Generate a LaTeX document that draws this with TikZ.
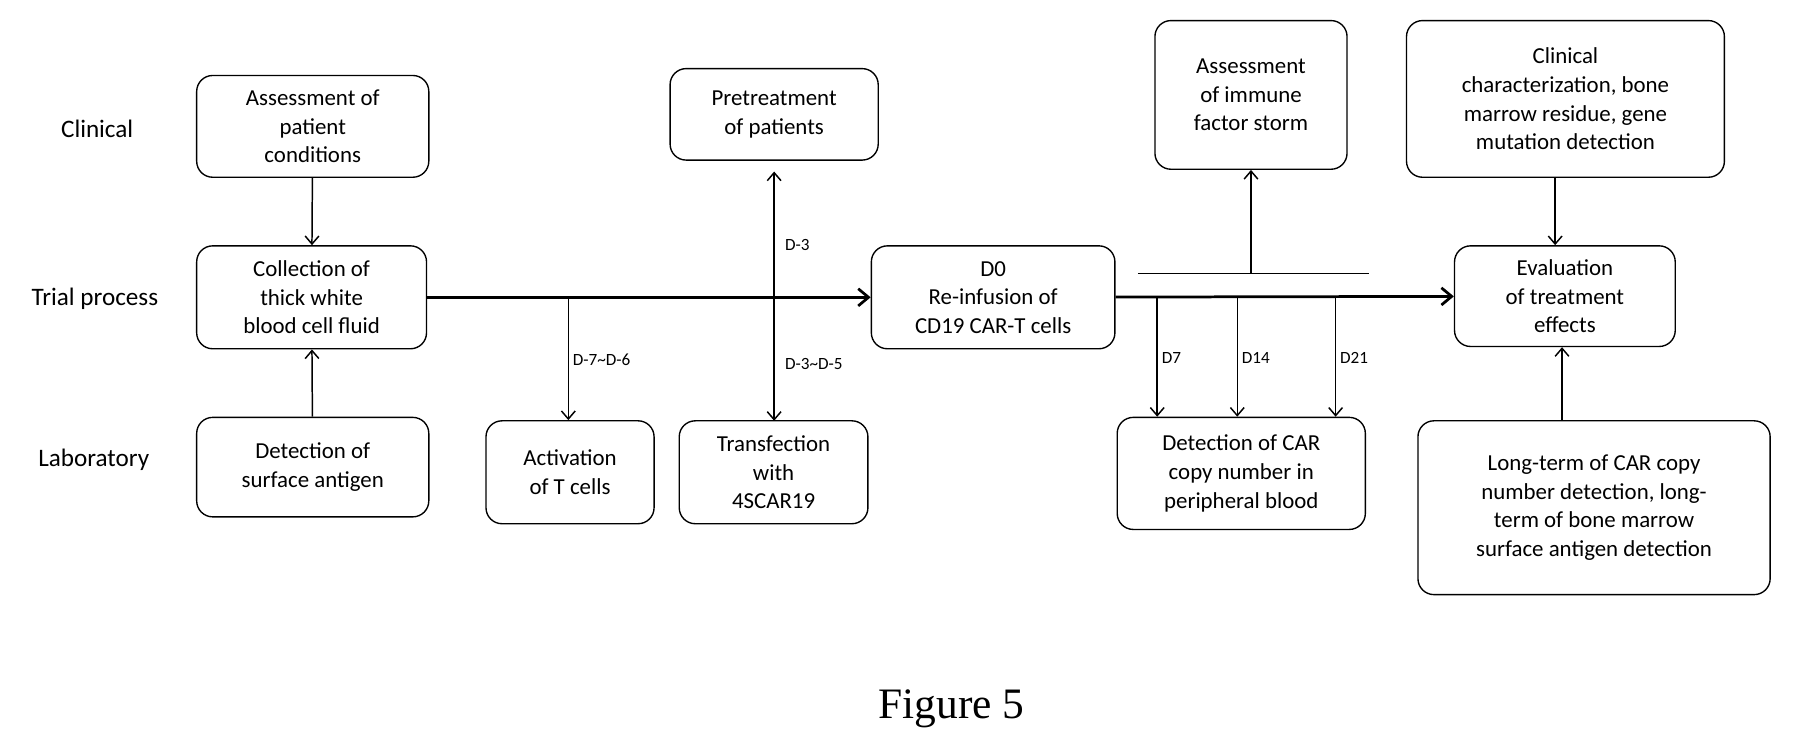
\documentclass[tikz,border=0pt]{standalone}
\usepackage{fontspec}
\setmainfont{Carlito}
\newfontfamily\figfont{Liberation Serif}
\usetikzlibrary{arrows.meta}
\begin{document}
\begin{tikzpicture}[x=1pt,y=-1pt,
 bx/.style={draw,rounded corners=14pt,line width=1.2pt,align=center,font=\fontsize{20}{25}\selectfont,inner sep=0pt},
 lab/.style={font=\fontsize{22}{26}\selectfont},
 sm/.style={font=\fontsize{15}{18}\selectfont,anchor=west},
 ar/.style={line width=1.3pt,-{Straight Barb[length=7pt,width=12pt]}},
 main/.style={line width=2.4pt,-{Straight Barb[length=9pt,width=15pt]}}]
\useasboundingbox (0,0) rectangle (1568,653);
\node[lab] (l1) at (85,113) {Clinical};
\node[lab] (l2) at (83,261) {Trial process};
\node[lab] (l3) at (82,402) {Laboratory};
\def\B#1#2#3#4#5#6{\node[bx,minimum width=#4-#2,minimum height=#5-#3] (#1) at ({(#2+#4)/2},{(#3+#5)/2}) {#6};}
\B{a1}{172}{66}{375}{155}{Assessment of\\patient\\conditions}
\B{a2}{172}{215}{373}{305}{Collection of\\thick white\\blood cell fluid}
\B{a3}{172}{365}{375}{452}{Detection of\\surface antigen}
\B{pre}{586}{60}{768}{140}{Pretreatment\\of patients}
\B{act}{425}{368}{572}{458}{Activation\\of T cells}
\B{tra}{594}{368}{759}{458}{Transfection\\with\\4SCAR19}
\B{d0}{762}{215}{975}{305}{D0\\Re-infusion of\\CD19 CAR-T cells}
\B{imm}{1010}{18}{1178}{148}{Assessment\\of immune\\factor storm}
\B{car}{977}{365}{1194}{463}{Detection of CAR\\copy number in\\peripheral blood}
\B{cli}{1230}{18}{1508}{155}{Clinical\\characterization, bone\\marrow residue, gene\\mutation detection}
\B{eva}{1272}{215}{1465}{303}{Evaluation\\of treatment\\effects}
\B{lon}{1240}{368}{1548}{520}{Long-term of CAR copy\\number detection, long-\\term of bone marrow\\surface antigen detection}
\draw[ar] (a1) -- (a2);
\draw[ar] (a3) -- (a2);
\draw[main] (a2) -- (d0);
\draw[main] (d0) -- (eva);
\coordinate (p1) at (497,261);
\draw[ar] (p1) -- (act.north -| p1) node[sm,pos=0.5] {D-7\textasciitilde D-6};
\coordinate (p2) at (677,150);
\coordinate (p3) at (677,368);
\draw[line width=1.3pt,{Straight Barb[length=7pt,width=12pt]}-{Straight Barb[length=7pt,width=12pt]}] (p2) -- (p3);
\node[sm] (t1) at (683,214) {D-3};
\node[sm] (t2) at (683,318) {D-3\textasciitilde D-5};
\coordinate (b1) at (995,239); \coordinate (b2) at (1197,239);
\draw[line width=1.3pt] (b1) -- (b2);
\coordinate (b3) at (1094,239);
\draw[ar] (b3) -- (imm.south -| b3);
\foreach \x/\t in {1012/D7,1082/D14,1168/D21}{
 \coordinate (q\t) at (\x,261);
 \draw[ar] (q\t) -- (car.north -| q\t) node[sm,pos=0.5] {\t};}
\draw[ar] (cli.south -| 1360,0) -- (eva.north -| 1360,0);
\draw[ar] (lon.north -| 1366,0) -- (eva.south -| 1366,0);
\node[font=\figfont\fontsize{38}{40}\selectfont] (fig) at (832,620) {Figure 5};
\end{tikzpicture}
\end{document}
